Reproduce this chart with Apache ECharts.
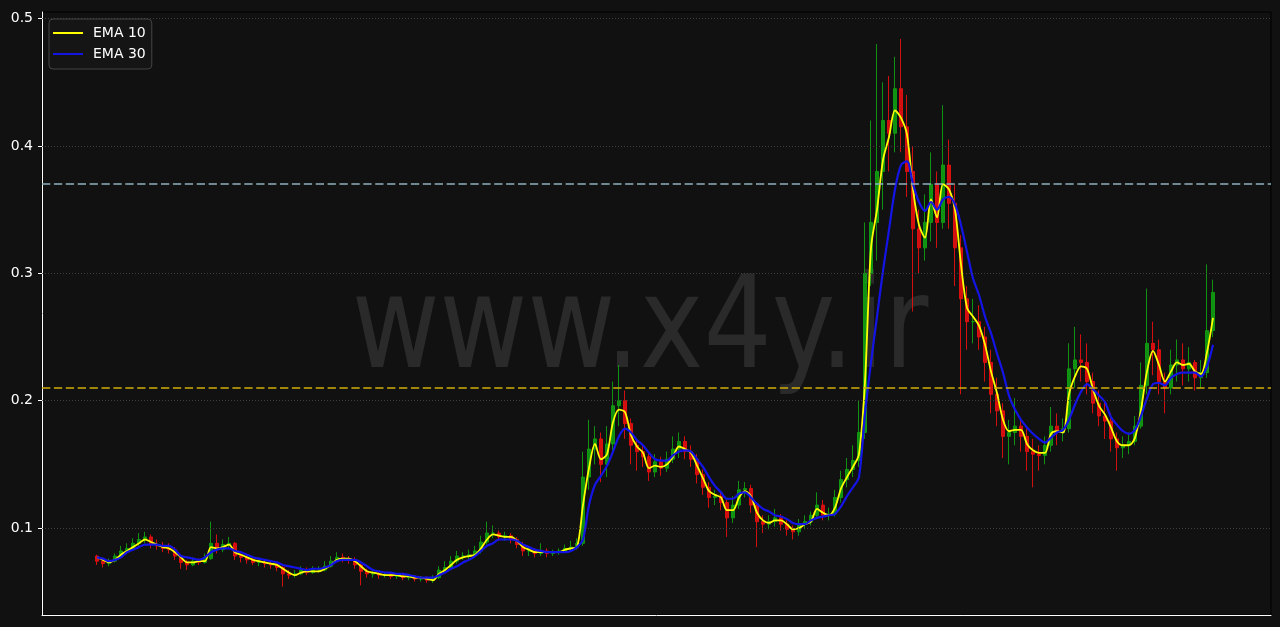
<!DOCTYPE html>
<html><head><meta charset="utf-8">
<script src="https://cdn.jsdelivr.net/npm/echarts@6/dist/echarts.min.js"></script>
<style>html,body{margin:0;padding:0;background:#111111;}#c{width:1280px;height:627px;}</style>
</head><body><div id="c"></div>
<script>
// ---- data ----
const opens=[0.078,0.074,0.072,0.074,0.078,0.082,0.084,0.088,0.091,0.093,
0.087,0.086,0.084,0.083,0.078,0.073,0.071,0.074,0.073,0.076,
0.088,0.083,0.087,0.088,0.078,0.077,0.075,0.073,0.073,0.072,
0.071,0.069,0.064,0.063,0.064,0.067,0.065,0.067,0.067,0.070,
0.074,0.077,0.076,0.075,0.071,0.066,0.064,0.064,0.063,0.063,
0.062,0.062,0.061,0.062,0.060,0.060,0.059,0.061,0.067,0.069,
0.074,0.078,0.078,0.079,0.082,0.089,0.096,0.096,0.093,0.094,
0.091,0.087,0.082,0.082,0.080,0.082,0.080,0.081,0.082,0.084,
0.085,0.088,0.140,0.162,0.170,0.150,0.166,0.196,0.200,0.182,
0.165,0.160,0.156,0.144,0.152,0.147,0.154,0.162,0.168,0.160,
0.154,0.142,0.132,0.124,0.125,0.120,0.108,0.118,0.130,0.131,
0.118,0.105,0.103,0.105,0.108,0.103,0.099,0.097,0.103,0.105,
0.110,0.118,0.110,0.111,0.124,0.138,0.146,0.153,0.175,0.300,
0.340,0.380,0.420,0.410,0.445,0.415,0.380,0.335,0.320,0.340,
0.370,0.340,0.385,0.355,0.320,0.280,0.262,0.262,0.250,0.230,
0.205,0.192,0.172,0.175,0.180,0.172,0.160,0.158,0.157,0.165,
0.180,0.175,0.178,0.225,0.232,0.230,0.215,0.198,0.188,0.184,
0.170,0.163,0.165,0.168,0.180,0.212,0.245,0.240,0.215,0.210,
0.228,0.232,0.225,0.230,0.218,0.222,0.255];
const closes=[0.074,0.072,0.074,0.078,0.082,0.084,0.088,0.091,0.093,0.087,
0.086,0.084,0.083,0.078,0.073,0.071,0.074,0.073,0.076,0.088,
0.083,0.087,0.088,0.078,0.077,0.075,0.073,0.073,0.072,0.071,
0.069,0.064,0.063,0.064,0.067,0.065,0.067,0.067,0.070,0.074,
0.077,0.076,0.075,0.071,0.066,0.064,0.064,0.063,0.063,0.062,
0.062,0.061,0.062,0.060,0.060,0.059,0.061,0.067,0.069,0.074,
0.078,0.078,0.079,0.082,0.089,0.096,0.096,0.093,0.094,0.091,
0.087,0.082,0.082,0.080,0.082,0.080,0.081,0.082,0.084,0.085,
0.088,0.140,0.162,0.170,0.150,0.166,0.196,0.200,0.182,0.165,
0.160,0.156,0.144,0.152,0.147,0.154,0.162,0.168,0.160,0.154,
0.142,0.132,0.124,0.125,0.120,0.108,0.118,0.130,0.131,0.118,
0.105,0.103,0.105,0.108,0.103,0.099,0.097,0.103,0.105,0.110,
0.118,0.110,0.111,0.124,0.138,0.146,0.153,0.175,0.300,0.340,
0.380,0.420,0.410,0.445,0.415,0.380,0.335,0.320,0.340,0.370,
0.340,0.385,0.355,0.320,0.280,0.262,0.262,0.250,0.230,0.205,
0.192,0.172,0.175,0.180,0.172,0.160,0.158,0.157,0.165,0.180,
0.175,0.178,0.225,0.232,0.230,0.215,0.198,0.188,0.184,0.170,
0.163,0.165,0.168,0.180,0.212,0.245,0.240,0.215,0.210,0.228,
0.232,0.225,0.230,0.218,0.222,0.255,0.285];
const lows=[0.071,0.069,0.070,0.073,0.077,0.080,0.083,0.086,0.088,0.084,
0.083,0.081,0.080,0.075,0.068,0.067,0.070,0.071,0.072,0.075,
0.080,0.081,0.084,0.075,0.073,0.072,0.071,0.070,0.069,0.068,
0.066,0.054,0.060,0.061,0.063,0.063,0.064,0.065,0.066,0.069,
0.073,0.073,0.072,0.068,0.055,0.061,0.061,0.060,0.061,0.060,
0.060,0.059,0.059,0.058,0.058,0.057,0.057,0.060,0.065,0.067,
0.072,0.075,0.075,0.077,0.080,0.087,0.092,0.090,0.090,0.088,
0.084,0.078,0.078,0.077,0.078,0.077,0.078,0.079,0.081,0.082,
0.083,0.086,0.130,0.150,0.136,0.140,0.160,0.180,0.170,0.150,
0.145,0.148,0.137,0.140,0.141,0.144,0.151,0.155,0.154,0.148,
0.135,0.126,0.116,0.118,0.114,0.093,0.104,0.115,0.124,0.112,
0.085,0.096,0.099,0.101,0.098,0.094,0.091,0.094,0.099,0.102,
0.108,0.106,0.106,0.109,0.120,0.132,0.140,0.148,0.170,0.290,
0.310,0.350,0.380,0.395,0.395,0.360,0.270,0.300,0.310,0.325,
0.320,0.335,0.335,0.290,0.205,0.240,0.245,0.240,0.215,0.190,
0.180,0.155,0.150,0.165,0.160,0.145,0.132,0.145,0.150,0.160,
0.165,0.168,0.175,0.210,0.215,0.205,0.190,0.180,0.170,0.160,
0.145,0.155,0.158,0.165,0.178,0.205,0.220,0.205,0.190,0.205,
0.215,0.212,0.215,0.208,0.210,0.218,0.250];
const highs=[0.079,0.076,0.076,0.080,0.086,0.088,0.092,0.096,0.097,0.095,
0.091,0.089,0.088,0.085,0.079,0.075,0.077,0.076,0.080,0.105,
0.095,0.091,0.093,0.089,0.080,0.079,0.077,0.076,0.075,0.074,
0.073,0.070,0.067,0.067,0.070,0.069,0.070,0.070,0.074,0.078,
0.081,0.080,0.078,0.077,0.072,0.068,0.067,0.066,0.065,0.065,
0.064,0.064,0.064,0.063,0.062,0.062,0.063,0.070,0.074,0.078,
0.082,0.081,0.083,0.086,0.094,0.105,0.102,0.098,0.097,0.096,
0.093,0.089,0.085,0.084,0.088,0.084,0.083,0.084,0.087,0.090,
0.092,0.160,0.185,0.180,0.175,0.180,0.215,0.228,0.208,0.186,
0.170,0.166,0.160,0.158,0.156,0.160,0.172,0.175,0.172,0.165,
0.158,0.146,0.136,0.130,0.128,0.122,0.125,0.137,0.136,0.134,
0.120,0.110,0.110,0.115,0.111,0.106,0.102,0.107,0.110,0.113,
0.128,0.122,0.116,0.130,0.145,0.155,0.165,0.200,0.340,0.420,
0.480,0.450,0.455,0.470,0.484,0.440,0.400,0.350,0.362,0.395,
0.380,0.432,0.405,0.370,0.330,0.290,0.280,0.275,0.258,0.240,
0.218,0.198,0.185,0.202,0.186,0.178,0.170,0.165,0.172,0.195,
0.190,0.186,0.245,0.258,0.252,0.245,0.222,0.208,0.200,0.190,
0.175,0.172,0.175,0.188,0.230,0.288,0.262,0.248,0.222,0.240,
0.248,0.245,0.242,0.232,0.232,0.307,0.295];
const ema10=[0.077,0.075,0.073,0.075,0.079,0.082,0.085,0.088,0.091,0.089,
0.087,0.085,0.084,0.081,0.077,0.073,0.073,0.074,0.074,0.085,
0.084,0.085,0.087,0.081,0.079,0.077,0.075,0.074,0.073,0.072,
0.071,0.068,0.065,0.063,0.065,0.066,0.066,0.066,0.068,0.071,
0.075,0.076,0.076,0.074,0.070,0.066,0.065,0.064,0.063,0.063,
0.063,0.062,0.062,0.061,0.061,0.060,0.059,0.064,0.067,0.071,
0.075,0.077,0.078,0.079,0.084,0.091,0.095,0.094,0.093,0.093,
0.090,0.085,0.083,0.081,0.081,0.081,0.081,0.081,0.083,0.084,
0.085,0.118,0.147,0.166,0.154,0.158,0.183,0.193,0.191,0.173,
0.164,0.159,0.147,0.149,0.148,0.150,0.156,0.164,0.162,0.159,
0.149,0.139,0.129,0.126,0.124,0.114,0.114,0.124,0.129,0.125,
0.112,0.106,0.104,0.106,0.106,0.103,0.099,0.100,0.103,0.105,
0.115,0.112,0.110,0.116,0.131,0.140,0.148,0.158,0.215,0.320,
0.350,0.389,0.407,0.428,0.422,0.409,0.366,0.338,0.328,0.358,
0.344,0.370,0.366,0.350,0.307,0.273,0.266,0.259,0.244,0.223,
0.206,0.185,0.176,0.177,0.177,0.166,0.161,0.159,0.159,0.174,
0.176,0.175,0.205,0.219,0.227,0.225,0.209,0.196,0.189,0.179,
0.168,0.165,0.165,0.171,0.193,0.223,0.239,0.228,0.215,0.223,
0.230,0.228,0.229,0.223,0.221,0.238,0.265];
const ema30=[0.077,0.076,0.074,0.075,0.077,0.081,0.083,0.085,0.087,0.087,
0.087,0.086,0.086,0.083,0.078,0.077,0.076,0.075,0.077,0.081,
0.083,0.084,0.084,0.082,0.081,0.079,0.077,0.076,0.075,0.074,
0.073,0.071,0.070,0.069,0.068,0.067,0.068,0.068,0.069,0.071,
0.074,0.075,0.075,0.075,0.073,0.070,0.067,0.066,0.065,0.065,
0.064,0.064,0.063,0.062,0.061,0.061,0.061,0.063,0.065,0.068,
0.070,0.073,0.075,0.078,0.082,0.086,0.088,0.091,0.091,0.091,
0.090,0.087,0.085,0.083,0.082,0.081,0.081,0.081,0.081,0.082,
0.085,0.091,0.118,0.134,0.141,0.149,0.160,0.172,0.178,0.175,
0.169,0.165,0.159,0.154,0.153,0.153,0.157,0.160,0.161,0.160,
0.154,0.148,0.140,0.133,0.128,0.123,0.123,0.127,0.128,0.124,
0.119,0.115,0.113,0.110,0.109,0.107,0.104,0.103,0.103,0.106,
0.108,0.109,0.110,0.111,0.117,0.125,0.132,0.140,0.190,0.230,
0.266,0.302,0.334,0.366,0.385,0.388,0.370,0.356,0.349,0.356,
0.350,0.358,0.360,0.354,0.338,0.317,0.296,0.283,0.266,0.253,
0.237,0.222,0.204,0.193,0.185,0.179,0.174,0.170,0.167,0.171,
0.175,0.177,0.185,0.197,0.207,0.213,0.209,0.204,0.199,0.187,
0.181,0.176,0.174,0.177,0.188,0.202,0.213,0.214,0.212,0.218,
0.221,0.222,0.222,0.222,0.219,0.227,0.244];
const yTicks=[0.1,0.2,0.3,0.4,0.5];
const levelHigh=0.3722;
const levelLow=0.2137;
const seriesNames=['EMA 10','EMA 30'];
const watermark='www.x4y.ir';
const categories=opens.map((_,i)=>String(i+1));

// ---- chart ----
const candleData=opens.map((o,i)=>[o,closes[i],lows[i],highs[i]]);
const yMin=0.0317, yMax=0.5052;
const chart=echarts.init(document.getElementById('c'),null,{renderer:'canvas'});
chart.setOption({
  backgroundColor:'#111111',
  animation:false,
  textStyle:{fontFamily:'DejaVu Sans'},
  grid:[
    {left:94,right:64,top:12,bottom:12},
    {left:42,right:9,top:12,bottom:12,show:true,borderColor:'#000000',borderWidth:1,backgroundColor:'transparent'}
  ],
  xAxis:[
    {type:'category',gridIndex:0,data:categories,boundaryGap:true,show:false},
    {type:'value',gridIndex:1,min:0,max:1,
      axisLine:{show:true,onZero:false,lineStyle:{color:'#ffffff',width:1}},
      axisTick:{show:false},axisLabel:{show:false},splitLine:{show:false}}
  ],
  yAxis:[
    {type:'value',gridIndex:0,min:yMin,max:yMax,show:false,splitLine:{show:false}},
    {type:'value',gridIndex:1,min:yMin,max:yMax,
      axisLine:{show:true,onZero:false,lineStyle:{color:'#ffffff',width:1}},
      axisTick:{show:true,length:4,lineStyle:{color:'#ffffff'},customValues:yTicks},
      axisLabel:{color:'#ffffff',fontSize:14,margin:9,customValues:yTicks,fontFamily:'DejaVu Sans',
        formatter:v=>Number(v).toFixed(1)},
      splitLine:{show:false}}
  ],
  legend:{
    data:seriesNames,orient:'vertical',left:49,top:19,icon:'rect',
    itemWidth:30,itemHeight:2,itemGap:7,
    padding:[7,6,8,4],
    backgroundColor:'#151515',borderColor:'#444444',borderWidth:1,borderRadius:4,
    textStyle:{color:'#ffffff',fontSize:14,fontFamily:'DejaVu Sans',padding:[0,0,0,5]}
  },
  graphic:[{
    type:'text',x:640,y:334,scaleX:0.84,z:-10,silent:true,
    style:{text:watermark,font:'128px "DejaVu Sans"',fill:'#2a2a2a',textAlign:'center',textVerticalAlign:'middle'}
  }],
  series:[
    {name:'_grid',type:'line',xAxisIndex:1,yAxisIndex:1,data:[],z:1,silent:true,
      markLine:{silent:true,symbol:['none','none'],label:{show:false},animation:false,
        lineStyle:{color:'#4a4a4a',type:[1,2],width:0.8},
        data:yTicks.map(v=>({yAxis:v}))}},
    {name:'candles',type:'candlestick',xAxisIndex:0,yAxisIndex:0,data:candleData,barWidth:4,z:2,
      itemStyle:{color:'#12a012',color0:'#e81010',borderColor:'#12a012',borderColor0:'#e81010',borderWidth:1,opacity:0.9}},
    {name:seriesNames[0],type:'line',xAxisIndex:0,yAxisIndex:0,data:ema10,symbol:'none',smooth:0.3,z:3,
      lineStyle:{color:'#ffff00',width:1.8},itemStyle:{color:'#ffff00'}},
    {name:seriesNames[1],type:'line',xAxisIndex:0,yAxisIndex:0,data:ema30,symbol:'none',smooth:0.3,z:4,
      lineStyle:{color:'#1414e6',width:2.2},itemStyle:{color:'#1414e6'}},
    {name:'_levels',type:'line',xAxisIndex:1,yAxisIndex:1,data:[],z:6,silent:true,
      markLine:{silent:true,symbol:['none','none'],label:{show:false},animation:false,
        data:[
          {yAxis:levelHigh,lineStyle:{color:'#8eb0bc',type:[8.3,3.6],width:1.5}},
          {yAxis:levelLow,lineStyle:{color:'#cfaf0a',type:[8.3,3.6],width:1.5}}
        ]}}
  ]
});
</script></body></html>
